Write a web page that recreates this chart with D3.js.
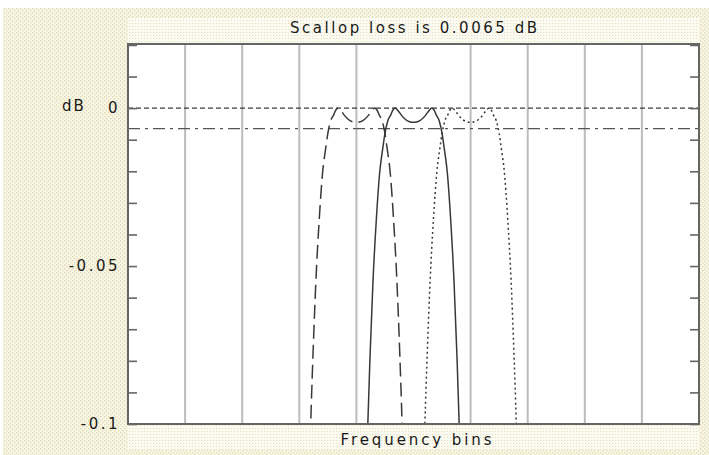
<!DOCTYPE html>
<html>
<head>
<meta charset="utf-8">
<script src="https://cdn.jsdelivr.net/npm/d3@7"></script>
<style>
  html, body { margin: 0; padding: 0; background: #ffffff; }
  svg { display: block; }
  text { font-family: "DejaVu Sans", Verdana, sans-serif; fill: #1a1a1a; }
</style>
</head>
<body>
<svg id="chart" width="709" height="455"></svg>
<script>
// ---- data --------------------------------------------------------------
const titleText = "Scallop loss is 0.0065 dB";
const xLabelText = "Frequency bins";
const yUnitText = "dB";

const xDomain = [-5, 5];          // frequency in bins
const yDomain = [-0.1, 0.0203];   // gain in dB

const gridBins = [-4, -3, -2, -1, 1, 2, 3, 4];
const yMinorTicks = [-0.1, -0.09, -0.08, -0.07, -0.06, -0.05, -0.04, -0.03, -0.02, -0.01, 0, 0.01, 0.02];
const yLabelTicks = [0, -0.05, -0.1];
const yLabelText = ["0", "-0.05", "-0.1"];

const peakLevel = 0;          // dB, dashed reference
const scallopLevel = -0.0065; // dB, dash-dot reference

// channel responses: [bin, dB]
const channelA = [
  [-1.84, -0.13], [-1.80, -0.100], [-1.76, -0.078], [-1.71, -0.055], [-1.65, -0.035],
  [-1.59, -0.020], [-1.54, -0.013], [-1.50, -0.008], [-1.45, -0.004], [-1.40, -0.0022],
  [-1.36, -0.0006], [-1.32, 0], [-1.27, -0.0008], [-1.21, -0.0023], [-1.14, -0.0036],
  [-1.07, -0.0043], [-1.00, -0.0045], [-0.93, -0.0043], [-0.86, -0.0036], [-0.79, -0.0023],
  [-0.73, -0.0008], [-0.68, 0], [-0.64, -0.0006], [-0.60, -0.0022], [-0.55, -0.004],
  [-0.50, -0.008], [-0.46, -0.013], [-0.41, -0.020], [-0.35, -0.035], [-0.29, -0.055],
  [-0.24, -0.078], [-0.20, -0.100], [-0.16, -0.13]
];
const channelB = [
  [-0.84, -0.13], [-0.80, -0.100], [-0.76, -0.078], [-0.71, -0.055], [-0.65, -0.035],
  [-0.59, -0.020], [-0.54, -0.013], [-0.50, -0.008], [-0.45, -0.004], [-0.40, -0.0022],
  [-0.36, -0.0006], [-0.32, 0], [-0.27, -0.0008], [-0.21, -0.0023], [-0.14, -0.0036],
  [-0.07, -0.0043], [0.00, -0.0045], [0.07, -0.0043], [0.14, -0.0036], [0.21, -0.0023],
  [0.27, -0.0008], [0.32, 0], [0.36, -0.0006], [0.40, -0.0022], [0.45, -0.004],
  [0.50, -0.008], [0.54, -0.013], [0.59, -0.020], [0.65, -0.035], [0.71, -0.055],
  [0.76, -0.078], [0.80, -0.100], [0.84, -0.13]
];
const channelC = [
  [0.16, -0.13], [0.20, -0.100], [0.24, -0.078], [0.29, -0.055], [0.35, -0.035],
  [0.41, -0.020], [0.46, -0.013], [0.50, -0.008], [0.55, -0.004], [0.60, -0.0022],
  [0.64, -0.0006], [0.68, 0], [0.73, -0.0008], [0.79, -0.0023], [0.86, -0.0036],
  [0.93, -0.0043], [1.00, -0.0045], [1.07, -0.0043], [1.14, -0.0036], [1.21, -0.0023],
  [1.27, -0.0008], [1.32, 0], [1.36, -0.0006], [1.40, -0.0022], [1.45, -0.004],
  [1.50, -0.008], [1.54, -0.013], [1.59, -0.020], [1.65, -0.035], [1.71, -0.055],
  [1.76, -0.078], [1.80, -0.100], [1.84, -0.13]
];

// ---- layout ------------------------------------------------------------
const plot = { left: 128, right: 699, top: 44, bottom: 424 };

const svg = d3.select("#chart");
const defs = svg.append("defs");

// stippled cream panel texture
const stipple = defs.append("pattern")
  .attr("id", "stipple").attr("patternUnits", "userSpaceOnUse")
  .attr("width", 4).attr("height", 4);
stipple.append("rect").attr("width", 4).attr("height", 4).attr("fill", "#f9f7e4");
stipple.append("rect").attr("x", 0).attr("y", 0).attr("width", 1.4).attr("height", 1.4).attr("fill", "#ded9b8");
stipple.append("rect").attr("x", 2).attr("y", 2).attr("width", 1.4).attr("height", 1.4).attr("fill", "#ded9b8");

// lighter banded texture behind the title and axis caption
const rows = defs.append("pattern")
  .attr("id", "rows").attr("patternUnits", "userSpaceOnUse")
  .attr("width", 3).attr("height", 3);
rows.append("rect").attr("width", 3).attr("height", 3).attr("fill", "#fcfbf1");
rows.append("rect").attr("x", 0).attr("y", 2).attr("width", 1.2).attr("height", 1).attr("fill", "#e4e0c4");

defs.append("clipPath").attr("id", "plotClip")
  .append("rect")
  .attr("x", plot.left).attr("y", plot.top)
  .attr("width", plot.right - plot.left).attr("height", plot.bottom - plot.top);

svg.append("rect").attr("x", 3).attr("y", 8).attr("width", 706).attr("height", 447)
  .attr("fill", "url(#stipple)");
svg.append("rect").attr("x", plot.left).attr("y", 17).attr("width", plot.right - plot.left).attr("height", plot.top - 17)
  .attr("fill", "url(#rows)");
svg.append("rect").attr("x", plot.left).attr("y", plot.bottom + 2).attr("width", plot.right - plot.left).attr("height", 24)
  .attr("fill", "url(#rows)");

// ---- scales ------------------------------------------------------------
const x = d3.scaleLinear().domain(xDomain).range([plot.left, plot.right]);
const y = d3.scaleLinear().domain(yDomain).range([plot.bottom, plot.top]);

// plot area
svg.append("rect")
  .attr("x", plot.left).attr("y", plot.top)
  .attr("width", plot.right - plot.left).attr("height", plot.bottom - plot.top)
  .attr("fill", "#ffffff");

// vertical bin grid
svg.append("g").selectAll("line").data(gridBins).join("line")
  .attr("x1", d => x(d)).attr("x2", d => x(d))
  .attr("y1", plot.top).attr("y2", plot.bottom)
  .attr("stroke", "#bcbcbc").attr("stroke-width", 2);

const marks = svg.append("g").attr("clip-path", "url(#plotClip)");

// reference levels
marks.append("line")
  .attr("x1", plot.left).attr("x2", plot.right)
  .attr("y1", y(peakLevel)).attr("y2", y(peakLevel))
  .attr("stroke", "#3a3a3a").attr("stroke-width", 1.4)
  .attr("stroke-dasharray", "5,3");
marks.append("line")
  .attr("x1", plot.left).attr("x2", plot.right)
  .attr("y1", y(scallopLevel)).attr("y2", y(scallopLevel))
  .attr("stroke", "#555555").attr("stroke-width", 1.4)
  .attr("stroke-dasharray", "12,5,3,5");

// channel responses
const line = d3.line().x(d => x(d[0])).y(d => y(d[1])).curve(d3.curveMonotoneX);
const channels = [
  { data: channelA, dash: "14,6" },
  { data: channelB, dash: null },
  { data: channelC, dash: "2,3" }
];
marks.selectAll("path.channel").data(channels).join("path")
  .attr("class", "channel")
  .attr("d", d => line(d.data))
  .attr("fill", "none")
  .attr("stroke", "#383838")
  .attr("stroke-width", 1.5)
  .attr("stroke-dasharray", d => d.dash);

// frame
svg.append("rect")
  .attr("x", plot.left).attr("y", plot.top)
  .attr("width", plot.right - plot.left).attr("height", plot.bottom - plot.top)
  .attr("fill", "none").attr("stroke", "#656565").attr("stroke-width", 2);

// inward ticks on both sides
const leftTicks = svg.append("g").attr("transform", `translate(${plot.left},0)`)
  .call(d3.axisLeft(y).tickValues(yMinorTicks).tickSize(-9).tickFormat(""));
const rightTicks = svg.append("g").attr("transform", `translate(${plot.right},0)`)
  .call(d3.axisRight(y).tickValues(yMinorTicks).tickSize(-9).tickFormat(""));
[leftTicks, rightTicks].forEach(g => {
  g.select(".domain").remove();
  g.selectAll(".tick line").attr("stroke", "#656565").attr("stroke-width", 1.6);
});

// tick labels
const labels = svg.append("g").attr("transform", `translate(${plot.left},0)`)
  .call(d3.axisLeft(y).tickValues(yLabelTicks).tickSize(0).tickPadding(8)
    .tickFormat((d, i) => yLabelText[i]));
labels.select(".domain").remove();
labels.selectAll("text")
  .attr("font-size", 15).attr("letter-spacing", "2.5px")
  .attr("fill", "#1a1a1a").attr("font-family", "DejaVu Sans, Verdana, sans-serif");

svg.append("text")
  .attr("x", 62).attr("y", y(0)).attr("dy", "0.2em")
  .attr("font-size", 15).attr("letter-spacing", "2px")
  .text(yUnitText);

// title and caption
svg.append("text")
  .attr("x", x(0)).attr("y", 33).attr("text-anchor", "middle")
  .attr("font-size", 15).attr("textLength", 247).attr("lengthAdjust", "spacing")
  .text(titleText);
svg.append("text")
  .attr("x", 416).attr("y", 445).attr("text-anchor", "middle")
  .attr("font-size", 15).attr("textLength", 151).attr("lengthAdjust", "spacing")
  .text(xLabelText);
</script>
</body>
</html>
